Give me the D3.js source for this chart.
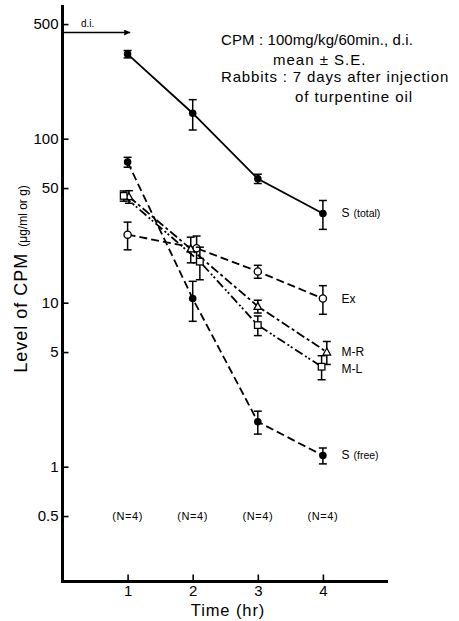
<!DOCTYPE html>
<html><head><meta charset="utf-8">
<script src="https://cdn.jsdelivr.net/npm/d3@7"></script>
<style>
body{margin:0;background:#fff;}
svg{display:block;font-family:"Liberation Sans",Arial,sans-serif;}
</style></head>
<body><svg id="c" width="459" height="621"></svg>
<script>
// ---- data ----
const seriesNames = ["S (total)", "S (free)", "Ex", "M-R", "M-L"];
const sTotalT = [1, 2, 3, 4];
const sTotal = [328, 143, 57, 35];
const sTotalSE = [17, 30, 3.7, 7];
const sFreeT = [1, 2, 3, 4];
const sFree = [72, 10.6, 1.88, 1.17];
const sFreeSE = [5, 2.9, 0.3, 0.13];
const exT = [1, 2.06, 3, 4];
const ex = [26, 21.5, 15.5, 10.6];
const exSE = [5, 4, 1.4, 2.1];
const mrT = [1.02, 1.97, 3, 4.06];
const mr = [44.3, 21.3, 9.5, 5.0];
const mrSE = [3.9, 3.8, 0.85, 0.8];
const mlT = [0.94, 2.11, 3, 3.98];
const ml = [44.8, 17.8, 7.3, 4.07];
const mlSE = [3.2, 4, 1.0, 0.68];
const yTicks = [0.5, 1, 5, 10, 50, 100, 500];
const yTickLabels = ["0.5", "1", "5", "10", "50", "100", "500"];
const xTicks = [1, 2, 3, 4];
const nLabels = ["(N=4)", "(N=4)", "(N=4)", "(N=4)"];
const notes = ["CPM : 100mg/kg/60min., d.i.", "mean \u00B1 S.E.", "Rabbits : 7 days after injection", "of turpentine oil"];

const svg = d3.select("#c");
const x = d3.scaleLinear().domain([0, 5]).range([62.5, 388]);
const y = d3.scaleLog().domain([0.2, 650]).range([581.3, 5.4]);

// axes
const yAxis = d3.axisLeft(y).tickValues(yTicks).tickFormat((d, i) => yTickLabels[i])
  .tickSizeInner(-6).tickSizeOuter(0).tickPadding(4);
const gy = svg.append("g").attr("transform", "translate(62.5,0)").call(yAxis);
gy.select(".domain").remove();
gy.selectAll("line").attr("stroke", "#000").attr("stroke-width", 1.6);
gy.selectAll("text").attr("font-size", 15).attr("fill", "#000");

const xAxis = d3.axisBottom(x).tickValues(xTicks).tickFormat(d3.format("d"))
  .tickSizeInner(-7).tickSizeOuter(0).tickPadding(4);
const gx = svg.append("g").attr("transform", "translate(0,581.5)").call(xAxis);
gx.select(".domain").remove();
gx.selectAll("line").attr("stroke", "#000").attr("stroke-width", 1.6);
gx.selectAll("text").attr("font-size", 15).attr("fill", "#000");

svg.append("line").attr("x1", 62.5).attr("x2", 62.5).attr("y1", 5).attr("y2", 583)
  .attr("stroke", "#000").attr("stroke-width", 3);
svg.append("line").attr("x1", 61).attr("x2", 388).attr("y1", 581.5).attr("y2", 581.5)
  .attr("stroke", "#000").attr("stroke-width", 3);

// axis titles
svg.append("text").attr("x", 228).attr("y", 616).attr("text-anchor", "middle")
  .attr("font-size", 16.5).attr("font-weight", "normal").attr("letter-spacing", 0.9).text("Time (hr)");
const yl = svg.append("text").attr("transform", "translate(27,279) rotate(-90)")
  .attr("text-anchor", "middle");
yl.append("tspan").attr("font-size", 18).attr("letter-spacing", 1).text("Level of CPM ");
yl.append("tspan").attr("font-size", 12).attr("font-weight", 300).text("(\u03BCg/ml or g)");

// d.i. arrow
svg.append("defs").append("marker").attr("id", "ah").attr("viewBox", "0 0 10 10")
  .attr("refX", 10).attr("refY", 5).attr("markerWidth", 10).attr("markerHeight", 6)
  .attr("markerUnits", "userSpaceOnUse").attr("orient", "auto")
  .append("path").attr("d", "M0,0L10,5L0,10Z").attr("fill", "#000");
svg.append("line").attr("x1", 64).attr("x2", x(1.04)).attr("y1", 32.5).attr("y2", 32.5)
  .attr("stroke", "#000").attr("stroke-width", 1.4).attr("marker-end", "url(#ah)");
svg.append("text").attr("x", 81).attr("y", 27).attr("font-size", 10).text("d.i.");

// notes
const noteX = [221, 273, 221, 295];
const noteY = [45, 65, 82, 102];
const noteLS = [0.1, 1, 0.85, 0.9];
notes.forEach((t, i) => {
  svg.append("text").attr("x", noteX[i]).attr("y", noteY[i]).attr("font-size", 15)
    .attr("letter-spacing", noteLS[i]).text(t);
});

// N labels
xTicks.forEach((t, i) => {
  svg.append("text").attr("x", x(t)).attr("y", y(0.5) + 4).attr("text-anchor", "middle")
    .attr("font-size", 11).attr("letter-spacing", 0.6).text(nLabels[i]);
});

// series
const series = [
  {t: sTotalT, v: sTotal, se: sTotalSE, dash: null, mk: "fcircle"},
  {t: sFreeT, v: sFree, se: sFreeSE, dash: "8,4", mk: "fcircle"},
  {t: exT, v: ex, se: exSE, dash: "8,4", mk: "ocircle"},
  {t: mrT, v: mr, se: mrSE, dash: "9,3,3,3", mk: "triangle"},
  {t: mlT, v: ml, se: mlSE, dash: "9,3,2,2,2,3", mk: "square"}
];
const line = d3.line().x(d => x(d[0])).y(d => y(d[1]));
series.forEach(s => {
  const pts = s.t.map((t, i) => [t, s.v[i], s.se[i]]);
  svg.append("path").attr("d", line(pts)).attr("fill", "none").attr("stroke", "#000")
    .attr("stroke-width", 1.8).attr("stroke-dasharray", s.dash);
  const g = svg.append("g");
  pts.forEach(p => {
    const cx = x(p[0]), y1 = y(p[1] + p[2]), y2 = y(p[1] - p[2]);
    g.append("line").attr("x1", cx).attr("x2", cx).attr("y1", y1).attr("y2", y2)
      .attr("stroke", "#000").attr("stroke-width", 1.5);
    [y1, y2].forEach(yy => g.append("line").attr("x1", cx - 4).attr("x2", cx + 4)
      .attr("y1", yy).attr("y2", yy).attr("stroke", "#000").attr("stroke-width", 1.5));
    const cy = y(p[1]);
    if (s.mk === "fcircle") {
      g.append("circle").attr("cx", cx).attr("cy", cy).attr("r", 3.8).attr("fill", "#000");
    } else if (s.mk === "ocircle") {
      g.append("circle").attr("cx", cx).attr("cy", cy).attr("r", 3.6).attr("fill", "#fff")
        .attr("stroke", "#000").attr("stroke-width", 1.3);
    } else if (s.mk === "square") {
      g.append("rect").attr("x", cx - 3.3).attr("y", cy - 3.3).attr("width", 6.6).attr("height", 6.6)
        .attr("fill", "#fff").attr("stroke", "#000").attr("stroke-width", 1.3);
    } else {
      g.append("path").attr("d", `M${cx},${cy - 4}L${cx + 3.8},${cy + 3}L${cx - 3.8},${cy + 3}Z`)
        .attr("fill", "#fff").attr("stroke", "#000").attr("stroke-width", 1.3);
    }
  });
});

// series labels
const labY = [sTotal[3], sFree[3], ex[3], mr[3], ml[3]];
const labDy = [4, 4, 4, 4, 6];
seriesNames.forEach((n, i) => {
  const parts = n.split(" ");
  const tx = svg.append("text").attr("x", 341.5).attr("y", y(labY[i]) + labDy[i]).attr("font-size", 12);
  tx.append("tspan").text(parts[0]);
  if (parts[1]) tx.append("tspan").attr("font-size", 10.5).attr("dx", 4).text(parts[1]);
});
</script></body></html>
